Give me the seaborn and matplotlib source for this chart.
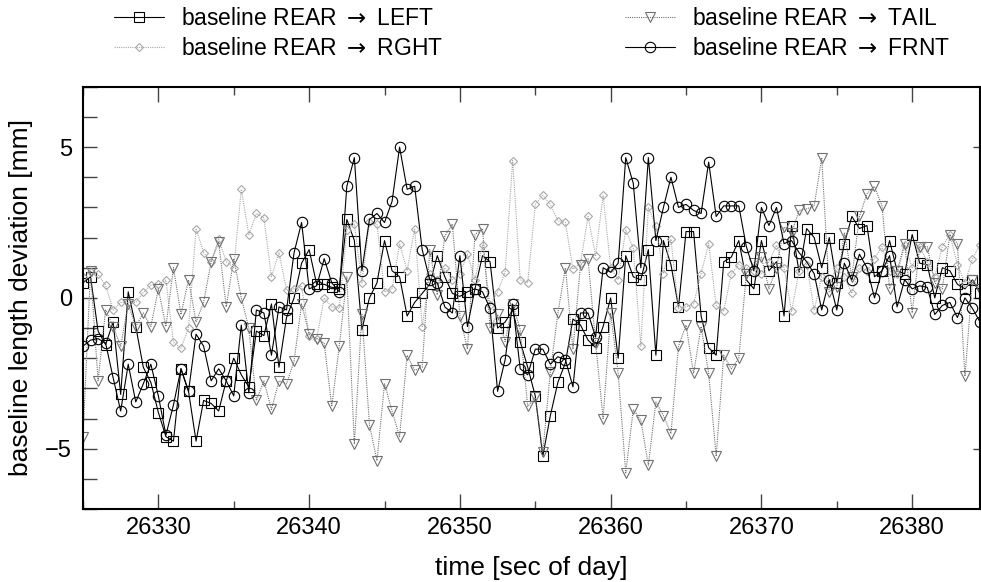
import numpy as np
import pandas as pd
import matplotlib
matplotlib.use("Agg")
import matplotlib.pyplot as plt
import seaborn as sns
from matplotlib.ticker import MultipleLocator, NullFormatter

sns.set_style("white")
plt.rcParams['font.family'] = ['Liberation Sans', 'DejaVu Sans']
plt.rcParams['text.color'] = 'black'
plt.rcParams['axes.labelcolor'] = 'black'
plt.rcParams['xtick.color'] = 'black'
plt.rcParams['ytick.color'] = 'black'

# sampling: 2 Hz starting at 26325.0 s of day
t_start = 26325.0
t_step = 0.5

rear_left = [0.5, 0.7, -1.1, -1.55, -0.8, -3.2, 0.2, -0.95, -2.3, -2.8,
             -3.8, -4.6, -4.75, -2.35, -3.1, -4.75, -3.4, -3.5, -3.75, -2.75,
             -2.0, -2.55, -2.95, -1.1, -1.25, -0.2, -2.3, -0.65, 0.0, 1.15,
             1.6, 0.45, 0.45, 0.35, 0.3, 2.6, 1.9, -1.05, 0.0, 0.5,
             1.9, 0.9, 0.7, -0.6, -0.15, 0.15, 0.45, 1.4, 0.7, 0.15,
             0.05, 0.2, 0.3, 1.4, 1.2, -1.0, -0.8, -0.4, -1.45, -2.3,
             -3.25, -5.25, -3.9, -2.8, -2.15, -0.7, -0.9, -1.4, -1.65, -0.95,
             0.0, -2.0, 1.4, 0.7, 0.6, 1.6, -1.9, 1.9, 1.1, -0.3,
             2.2, 2.2, -0.6, -1.65, -1.9, 1.2, 1.35, 1.9, 0.6, 0.3,
             1.9, 0.9, 1.2, -0.6, 2.4, 0.85, 2.3, 2.0, 1.0, 2.0,
             0.5, 1.8, 2.7, 2.3, 2.4, 0.7, 0.9, 1.9, 0.9, 0.8,
             2.1, 1.15, 1.1, 0.0, 1.0, 0.9, 0.45, 0.3, 0.6, 0.15]

rear_rght = [0.7, 0.87, 0.78, 0.42, -0.4, -0.15, -0.15, -0.15, 0.18, 0.42,
             0.45, 0.6, -1.47, -1.67, -1.0, 2.3, 1.5, 1.2, 1.95, 1.2,
             1.0, 3.6, 2.1, 2.8, 2.65, 0.7, 1.5, 0.25, 0.3, 0.4,
             -1.25, -1.35, 0.0, -0.3, -0.35, 2.25, 2.45, 0.5, 2.5, 2.45,
             0.2, 0.3, 1.8, 0.9, 2.3, -0.95, 0.8, 0.6, 1.0, 0.6,
             0.8, 1.45, 0.6, 1.75, -0.25, 0.2, 0.85, 4.55, 0.6, 0.5,
             3.1, 3.4, 3.1, 2.55, 2.5, 0.95, 1.15, 2.7, 1.4, 3.4,
             1.0, 0.6, 2.25, 1.65, -1.6, 3.0, 2.4, 0.8, 1.95, -0.35,
             -0.3, -0.2, 0.8, 1.8, -0.25, -0.45, 0.8, 1.1, 1.0, 0.9,
             0.8, 1.2, 1.75, 1.0, -0.45, 0.9, 1.1, -0.4, 0.7, 0.5,
             1.0, 0.7, 0.15, 1.0, 0.9, 1.3, 1.7, 0.9, 0.8, 1.75,
             1.0, 1.7, 1.2, 0.7, 1.7, 2.1, 1.1, 0.5, 1.3, 1.75]

rear_tail = [-4.6, 0.9, -2.75, -0.4, -0.95, -1.6, -0.2, -0.95, -0.5, -0.95,
             0.3, -0.95, 1.0, -0.55, 0.6, -0.8, -0.15, 1.2, 1.85, -0.3,
             1.3, 0.0, -1.0, -3.4, -2.75, -3.7, -2.75, -2.85, -2.1, -0.2,
             -1.2, -1.35, -1.5, -3.6, -1.6, 0.7, -4.85, -0.55, -4.2, -5.4,
             -2.85, -3.75, -4.6, -1.9, -2.4, -2.3, 1.6, 0.1, 2.05, 2.45,
             -0.6, -1.7, 2.1, 2.3, -1.0, -0.55, -1.45, -0.2, -1.05, -3.6,
             -3.3, -5.1, -2.45, -0.5, 1.0, -1.7, 1.1, 1.3, -1.5, -4.0,
             -0.5, -2.5, -5.8, -3.7, -4.05, -5.55, -3.45, -3.9, -4.5, -1.6,
             -0.9, -2.5, -0.95, -2.5, -5.25, -1.9, -2.35, -2.0, 0.8, 1.15,
             1.35, 0.3, 1.0, 2.35, 2.15, 2.9, 2.95, 3.05, 4.65, 0.2,
             0.35, 2.15, 0.7, 2.7, 3.45, 3.7, 3.05, 0.3, 0.9, 1.8,
             -0.5, 1.7, 1.7, 0.5, 0.3, 2.1, 1.8, -2.6, 0.6, 0.3]

rear_frnt = [-1.6, -1.4, -1.35, -1.5, -2.65, -3.75, -2.2, -3.45, -2.85, -2.2,
             -3.25, -4.55, -3.55, -2.35, -3.1, -1.2, -1.6, -2.75, -2.35, -2.75,
             -3.25, -0.9, -3.15, -0.4, -0.5, -1.9, -0.3, -0.4, 1.5, 2.5,
             0.3, 0.4, 1.3, 0.5, 0.2, 3.7, 4.65, 0.9, 2.6, 2.8,
             2.5, 3.2, 5.0, 3.6, 3.7, 1.6, 0.6, 0.5, -0.3, -0.5,
             1.4, -0.95, 0.3, 0.2, -0.35, -3.1, -2.05, -0.2, -2.35, -2.55,
             -1.7, -1.7, -2.2, -1.95, -2.05, -2.95, -0.5, -0.5, -1.3, 1.0,
             0.85, 1.15, 4.65, 3.8, 1.0, 4.65, 1.9, 3.0, 4.0, 3.0,
             3.1, 2.9, 2.8, 4.5, 2.7, 3.05, 3.05, 3.05, 1.7, 0.9,
             3.0, 2.4, 3.0, 1.8, 1.9, 1.5, 1.2, 0.8, -0.4, 0.6,
             -0.4, 1.15, 0.6, 1.45, 1.0, 0.0, 0.9, 1.4, -0.3, 0.6,
             0.3, 0.4, 0.35, -0.55, -0.25, -0.15, -0.65, 0.0, -0.35, -0.8]

series_labels = [r"baseline REAR ${\rightarrow}$ LEFT", r"baseline REAR ${\rightarrow}$ RGHT",
                 r"baseline REAR ${\rightarrow}$ TAIL", r"baseline REAR ${\rightarrow}$ FRNT"]

time_s = t_start + t_step * np.arange(len(rear_left))

df = pd.DataFrame({"time": time_s, "LEFT": rear_left, "RGHT": rear_rght,
                   "TAIL": rear_tail, "FRNT": rear_frnt})

fig = plt.figure(figsize=(9.81, 5.82), dpi=100)
ax = fig.add_axes([0.0846, 0.1254, 0.9144, 0.7255])

styles = {
    "LEFT": dict(color="black", linestyle="-", marker="s", ms=7.5, lw=0.8),
    "RGHT": dict(color="#a8a8a8", linestyle=(0, (1, 1)), marker="D", ms=4.5, lw=0.8),
    "TAIL": dict(color="#707070", linestyle=(0, (1, 1)), marker="v", ms=7, lw=0.8),
    "FRNT": dict(color="black", linestyle="-", marker="o", ms=7.5, lw=0.8),
}
for key, lab in zip(["LEFT", "RGHT", "TAIL", "FRNT"], series_labels):
    st = styles[key]
    sns.lineplot(data=df, x="time", y=key, ax=ax, color=st["color"],
                 linestyle=st["linestyle"], linewidth=st["lw"],
                 marker=st["marker"], markersize=st["ms"],
                 markerfacecolor="none", markeredgecolor=st["color"],
                 markeredgewidth=0.8, label=lab, errorbar=None, sort=False)

if ax.get_legend() is not None:
    ax.get_legend().remove()

ax.set_xlim(26325.0, 26384.5)
ax.set_ylim(-7, 7)
ax.xaxis.set_major_locator(MultipleLocator(10))
ax.xaxis.set_minor_locator(MultipleLocator(5))
ax.yaxis.set_major_locator(MultipleLocator(5))
ax.yaxis.set_minor_locator(MultipleLocator(1))
ax.tick_params(axis="x", which="major", direction="in", length=11, width=1,
               top=True, bottom=True, labelsize=17, pad=6, color="#444444")
ax.tick_params(axis="x", which="minor", direction="in", length=6, width=1,
               top=True, bottom=True, color="#444444")
ax.tick_params(axis="y", which="both", direction="in", length=10, width=1,
               left=True, right=False, labelsize=17, pad=8, color="#444444")
for sp in ax.spines.values():
    sp.set_linewidth(1.5)
    sp.set_color("black")

sec = ax.secondary_yaxis("right")
sec.yaxis.set_major_locator(MultipleLocator(5))
sec.yaxis.set_major_formatter(NullFormatter())
sec.tick_params(axis="y", direction="in", length=5, width=1, color="#444444")
sec.spines["right"].set_visible(False)

ax.set_xlabel("time [sec of day]", fontsize=19, labelpad=12)
ax.set_ylabel("baseline length deviation [mm]", fontsize=19, labelpad=9)
ax.grid(False)

handles = ax.get_lines()[:4]
fig.legend(handles, series_labels, loc="upper left", bbox_to_anchor=(0.095, 1.024),
           ncol=2, frameon=False, fontsize=16.5, handlelength=2.2,
           columnspacing=7.9, labelspacing=0.3, handletextpad=0.75)

fig.savefig("out.png", dpi=100)
